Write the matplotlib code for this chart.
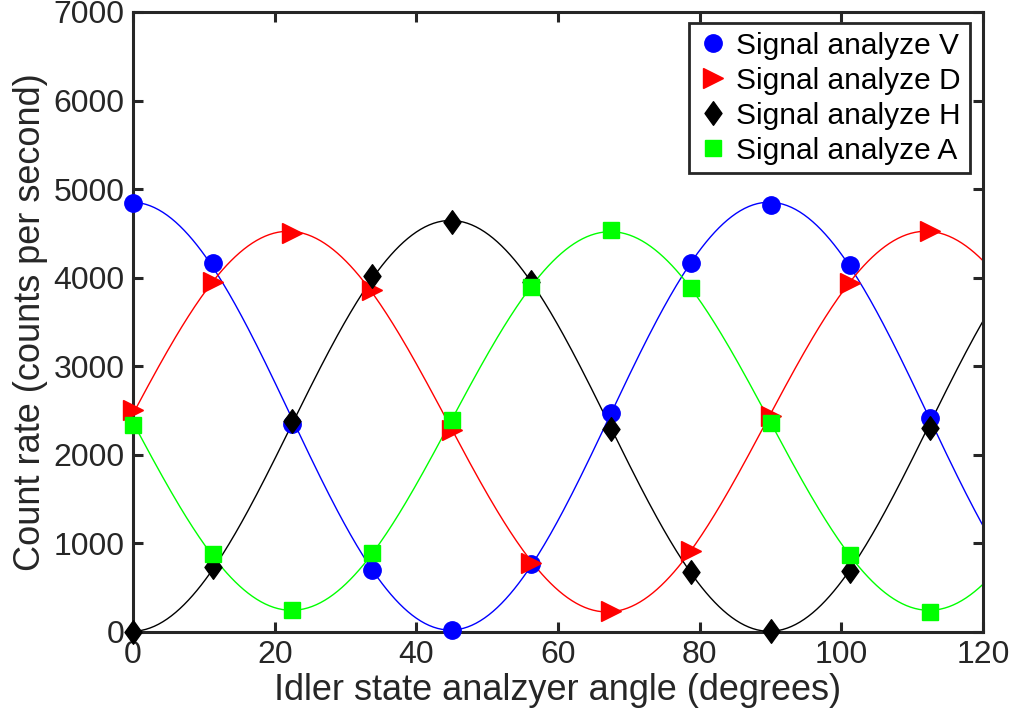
import numpy as np
import matplotlib
matplotlib.use("Agg")
import matplotlib.pyplot as plt
from matplotlib.path import Path

plt.rcParams['font.family'] = ['Liberation Sans', 'DejaVu Sans']

angles = [0, 11.25, 22.5, 33.75, 45, 56.25, 67.5, 78.75, 90, 101.25, 112.5]
sig_V = [4844, 4166, 2348, 700, 23, 768, 2473, 4166, 4821, 4144, 2416]
sig_D = [2506, 3952, 4505, 3861, 2281, 779, 237, 915, 2439, 3940, 4528]
sig_H = [0, 734, 2382, 4019, 4629, 3952, 2292, 677, 11, 689, 2303]
sig_A = [2337, 881, 248, 892, 2394, 3895, 4539, 3884, 2360, 869, 226]
labels = ['Signal analyze V', 'Signal analyze D', 'Signal analyze H', 'Signal analyze A']
colors = ['#0000ff', '#ff0000', '#000000', '#00ff00']

diamond = Path([(0, 1), (0.72, 0), (0, -1), (-0.72, 0), (0, 1)],
               [Path.MOVETO, Path.LINETO, Path.LINETO, Path.LINETO, Path.CLOSEPOLY])
markers = ['o', '>', diamond, 's']
msizes = [12.5, 14, 17, 11]

fig = plt.figure(figsize=(10.14, 7.27), dpi=100)
ax = fig.add_axes([0.1312, 0.1307, 0.8383, 0.8528])

x = np.array(angles, dtype=float)
xf = np.linspace(0, 120, 400)

def fit_curve(y):
    A = np.column_stack([np.ones_like(x), np.cos(np.radians(4 * x)), np.sin(np.radians(4 * x))])
    coef, *_ = np.linalg.lstsq(A, np.array(y, dtype=float), rcond=None)
    Af = np.column_stack([np.ones_like(xf), np.cos(np.radians(4 * xf)), np.sin(np.radians(4 * xf))])
    return Af @ coef

series = [sig_V, sig_D, sig_H, sig_A]
for y, c in zip(series, colors):
    ax.plot(xf, fit_curve(y), color=c, lw=1.0, zorder=2, clip_on=False)
for y, c, m, ms, lab in zip(series, colors, markers, msizes, labels):
    ax.plot(x, y, linestyle='none', marker=m, markersize=ms, color=c,
            markeredgecolor=c, label=lab, zorder=3, clip_on=False)

ax.set_xlim(0, 120)
ax.set_ylim(0, 7000)
ax.set_xticks(np.arange(0, 121, 20))
ax.set_yticks(np.arange(0, 7001, 1000))

axc = '#262626'
for s in ax.spines.values():
    s.set_linewidth(2.2)
    s.set_color(axc)
ax.tick_params(direction='in', length=7, width=2.2, colors=axc, labelsize=23,
               top=True, right=True, pad=6)
for t in ax.get_xticklabels() + ax.get_yticklabels():
    t.set_color(axc)

ax.set_xlabel('Idler state analzyer angle (degrees)', fontsize=26, color=axc, labelpad=2)
ax.set_ylabel('Count rate (counts per second)', fontsize=26, color=axc, labelpad=4)

leg = ax.legend(loc='upper right', bbox_to_anchor=(0.9847, 0.9823), borderaxespad=0,
                fontsize=21.5, frameon=True, fancybox=False, edgecolor='#262626',
                framealpha=1, labelspacing=0.23, handletextpad=0.3, handlelength=1.0,
                borderpad=0.3, numpoints=1)
leg.get_frame().set_linewidth(2.0)

fig.savefig('out.png', dpi=100)
